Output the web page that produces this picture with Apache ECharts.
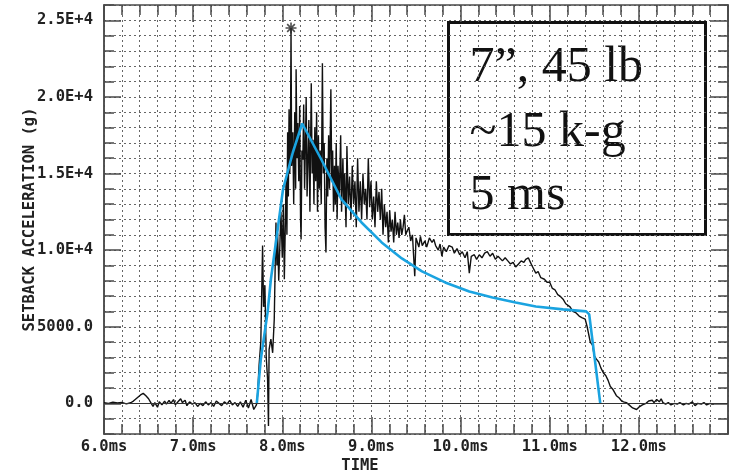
<!DOCTYPE html>
<html>
<head>
<meta charset="utf-8">
<script src="https://cdn.jsdelivr.net/npm/echarts@6/dist/echarts.min.js"></script>
<style>
html,body{margin:0;padding:0;background:#fff;}
#chart{width:729px;height:476px;}
</style>
</head>
<body>
<div id="chart"></div>
<script>
// ---- data (time in ms, acceleration in g) ----
var xTickValues = [6, 7, 8, 9, 10, 11, 12];
var xTickLabels = ['6.0ms', '7.0ms', '8.0ms', '9.0ms', '10.0ms', '11.0ms', '12.0ms'];
var yTickValues = [0, 5000, 10000, 15000, 20000, 25000];
var yTickLabels = ['0.0', '5000.0', '1.0E+4', '1.5E+4', '2.0E+4', '2.5E+4'];

var traceTime = [
 6.00,6.05,6.10,6.15,6.20,6.25,6.30,6.33,6.37,6.41,6.44,6.47,6.50,6.52,6.55,6.57,6.60,6.62,6.65,6.68,
 6.70,6.73,6.75,6.78,6.80,6.83,6.86,6.88,6.91,6.93,6.96,6.99,7.02,7.05,7.08,7.11,7.14,7.17,7.20,7.23,
 7.26,7.29,7.32,7.35,7.38,7.41,7.44,7.47,7.50,7.53,7.56,7.59,7.62,7.65,7.68,7.71,
 7.722,7.740,7.759,7.779,7.790,7.805,7.820,7.835,7.845,7.852,7.872,7.892,7.910,7.929,7.940,7.948,7.960,7.985,
 8.000,8.012,8.023,8.035,8.042,8.052,8.060,8.068,8.076,8.084,8.092,8.098,8.105,8.118,8.128,8.140,8.150,8.155,
 8.165,8.174,8.185,8.195,8.205,8.211,8.220,8.231,8.240,8.250,8.260,8.268,8.278,8.287,8.298,8.310,8.325,8.335,
 8.345,8.355,8.365,8.375,8.385,8.395,8.405,8.415,8.425,8.437,8.450,8.460,8.470,8.480,8.490,8.500,8.510,8.520,
 8.530,8.545,8.555,8.565,8.575,8.585,8.595,8.605,8.615,8.625,8.640,8.655,8.665,8.680,8.690,8.700,8.715,8.725,
 8.740,8.755,8.770,8.785,8.800,8.815,8.830,8.845,8.860,8.875,8.890,8.905,8.920,8.935,8.950,8.965,8.980,8.995,
 9.010,9.025,9.040,9.055,9.070,9.085,9.100,9.115,9.130,9.145,9.160,9.175,9.190,9.205,9.220,9.235,9.250,9.265,
 9.280,9.295,9.310,9.325,9.340,9.355,9.370,9.385,9.397,9.420,9.440,9.460,9.486,9.500,9.532,9.550,9.570,9.600,
 9.620,9.650,9.680,9.700,9.720,9.750,9.770,9.790,9.810,9.840,9.870,9.906,9.930,9.960,9.990,10.019,10.050,10.075,
 10.098,10.120,10.154,10.180,10.210,10.240,10.270,10.300,10.330,10.360,10.390,10.420,10.436,10.470,10.500,10.530,10.560,10.590,
 10.618,10.650,10.680,10.710,10.731,10.760,10.776,10.800,10.844,10.870,10.900,10.940,10.970,11.000,11.030,11.060,11.090,11.115,
 11.150,11.180,11.200,11.228,11.260,11.296,11.330,11.360,11.398,11.420,11.455,11.480,11.500,11.522,11.550,11.575,11.601,11.630,
 11.655,11.680,11.710,11.748,11.780,11.800,11.827,11.860,11.890,11.930,11.974,12.000,12.040,12.080,12.110,12.132,12.150,12.170,
 12.200,12.230,12.250,12.270,12.300,12.330,12.360,12.400,12.430,12.460,12.500,12.530,12.560,12.600,12.630,12.660,12.700,12.730,
 12.760,12.800,12.840
];
var traceAccel = [
 50,0,80,20,60,-30,40,150,350,550,650,500,300,100,-200,50,-250,100,-100,150,
 -50,200,0,250,-100,100,300,50,200,-150,100,-50,50,-200,0,-150,100,-100,50,-200,
 150,0,-150,100,-50,200,-100,50,-200,100,-250,200,-300,250,-400,-100,
 500,2500,4000,10300,6300,7700,3000,1600,-1480,3500,4200,3300,5500,11800,9000,11100,8000,12500,
 9500,13000,8100,12000,14600,11000,17700,13500,19200,15000,17500,24500,15500,17700,13000,19000,14000,21800,
 16000,18300,14500,19400,12000,10700,16500,15900,19500,14000,17000,20000,13500,15500,18500,12500,20900,15000,
 17200,13000,18000,14500,19000,12500,17500,14000,16500,13000,22200,15000,17000,11500,9850,16000,13500,17500,
 14000,20500,14500,16500,12500,15500,13000,17000,12000,15500,13500,17500,12500,16000,13000,15000,11500,16800,
 13000,14800,12000,15500,13000,14500,11500,16000,12500,14500,12000,15000,13000,14000,12000,16000,12800,14500,
 12000,13500,11500,14500,12500,13800,12000,14000,11000,13000,11500,12500,10500,12600,11200,12000,10500,12500,
 11000,11800,10800,12000,11000,11500,12300,11000,11200,11500,10600,11000,8300,10800,10200,10900,10300,10600,
 10200,10800,10500,10700,10300,10000,10400,9600,10200,9900,10300,10200,9800,10100,9700,9900,9500,9900,
 8500,9600,9700,9400,9700,9500,9800,9900,9600,9800,9400,9600,9500,9300,9500,9300,9100,9200,
 8900,9100,9300,9200,9400,9500,9300,9000,8500,8600,8200,8100,7900,7900,7500,7400,7100,7000,
 6800,6500,6500,6300,6000,5900,5700,5600,5500,5000,4000,3800,3100,2900,2700,2300,2000,1800,
 1500,1100,900,500,350,200,100,50,-100,-300,-400,-250,-100,0,150,100,200,50,
 250,100,300,50,-50,50,-100,0,-50,50,-100,0,-50,100,-150,0,-50,50,
 -100,0,-50
];
var modelTime = [7.714,7.759,7.835,7.872,7.948,8.008,8.118,8.223,8.438,8.664,8.889,9.115,9.341,9.567,9.827,10.098,10.358,10.618,10.844,11.149,11.409,11.443,11.488,11.567];
var modelAccel = [0,2870,5936,8089,11350,13960,16373,18265,15916,13307,11807,10502,9459,8610,7893,7306,6914,6588,6327,6132,6001,5806,3718,0];
var peakTime = [8.098];
var peakAccel = [24500];

function zip(a, b) { var r = []; for (var i = 0; i < a.length; i++) r.push([a[i], b[i]]); return r; }

var FONT = 'DejaVu Sans Mono';
var FS = 15.5;
var frameColor = '#4a4a4a';
var gridStyle = { color: '#666', width: 1, type: [2, 3] };

var chart = echarts.init(document.getElementById('chart'), null, { renderer: 'canvas' });

function xAx(pos, withLabels) {
  return {
    type: 'value', position: pos, min: 6, max: 13, interval: 1,
    axisLine: { show: true, onZero: false, lineStyle: { color: frameColor, width: 1.5 } },
    axisTick: { show: true, inside: true, length: 17, lineStyle: { color: frameColor, width: 1.5 } },
    minorTick: { show: true, splitNumber: 5, length: 10, lineStyle: { color: frameColor, width: 1.5 } },
    splitLine: { show: withLabels, lineStyle: gridStyle },
    minorSplitLine: { show: withLabels, lineStyle: gridStyle },
    axisLabel: withLabels ? {
      show: true, margin: 5, showMaxLabel: false,
      fontFamily: FONT, fontWeight: 'bold', fontSize: FS, color: '#222',
      formatter: function (v) { var i = xTickValues.indexOf(v); return i >= 0 ? xTickLabels[i] : ''; }
    } : { show: false },
    name: withLabels ? 'TIME' : '',
    nameLocation: 'middle', nameGap: 24, nameMoveOverlap: false,
    nameTextStyle: { fontFamily: FONT, fontWeight: 'bold', fontSize: FS, color: '#222', padding: [0, 112, 0, 0] }
  };
}

function yAx(pos, major, withLabels) {
  var o = {
    type: 'value', position: pos, min: -2000, max: 26000, interval: 1000,
    axisLine: { show: true, onZero: false, lineStyle: { color: frameColor, width: 1.5 } },
    axisTick: { show: true, inside: true, length: major ? 17 : 10, lineStyle: { color: frameColor, width: 1.5 } },
    splitLine: { show: (!major && pos === 'left'), lineStyle: gridStyle },
    axisLabel: { show: false }
  };
  if (major) {
    o.axisTick.customValues = yTickValues;
    if (withLabels) {
      o.axisLabel = {
        show: true, margin: 11, customValues: yTickValues,
        fontFamily: FONT, fontWeight: 'bold', fontSize: FS, color: '#222',
        formatter: function (v) { var i = yTickValues.indexOf(v); return i >= 0 ? yTickLabels[i] : ''; }
      };
      o.name = 'SETBACK ACCELERATION (g)';
      o.nameLocation = 'middle';
      o.nameGap = 66;
      o.nameMoveOverlap = false;
      o.nameTextStyle = { fontFamily: FONT, fontWeight: 'bold', fontSize: FS, color: '#222' };
    }
  }
  return o;
}

var option = {
  animation: false,
  backgroundColor: '#fff',
  grid: { left: 104, right: 1, top: 5, bottom: 42, containLabel: false, outerBoundsMode: 'none' },
  xAxis: [xAx('bottom', true), xAx('top', false)],
  yAxis: [yAx('left', false, false), yAx('left', true, true), yAx('right', false, false), yAx('right', true, false)],
  series: [
    {
      type: 'line', xAxisIndex: 0, yAxisIndex: 0,
      data: zip(traceTime, traceAccel), showSymbol: false, symbol: 'none',
      lineStyle: { color: '#111', width: 1.4 },
      markLine: {
        silent: true, symbol: 'none', label: { show: false },
        lineStyle: { color: '#333', width: 1.2, type: 'solid' },
        data: [{ yAxis: 0 }]
      },
      z: 3
    },
    {
      type: 'line', xAxisIndex: 0, yAxisIndex: 0,
      data: zip(modelTime, modelAccel), showSymbol: false, symbol: 'none',
      lineStyle: { color: '#1aa3e0', width: 2.6 },
      z: 4
    },
    {
      type: 'scatter', xAxisIndex: 0, yAxisIndex: 0,
      data: zip(peakTime, peakAccel),
      symbol: 'path://M5,0L5,10M0,5L10,5M1.5,1.5L8.5,8.5M8.5,1.5L1.5,8.5',
      symbolSize: 11,
      itemStyle: { color: 'transparent', borderColor: '#222', borderWidth: 1.6 },
      z: 5
    }
  ],
  graphic: [
    {
      type: 'group', left: 447, top: 21, z: 100,
      children: [
        { type: 'rect', shape: { x: 0, y: 0, width: 257, height: 212 },
          style: { fill: '#fff', stroke: '#111', lineWidth: 3 } },
        { type: 'text', x: 21, y: 45, style: { text: '7\u201D, 45 lb', font: '50px "Liberation Serif"', fill: '#111', verticalAlign: 'middle' } },
        { type: 'text', x: 21, y: 110, style: { text: '~15 k-g', font: '50px "Liberation Serif"', fill: '#111', verticalAlign: 'middle' } },
        { type: 'text', x: 21, y: 173, style: { text: '5 ms', font: '50px "Liberation Serif"', fill: '#111', verticalAlign: 'middle' } }
      ]
    }
  ]
};
chart.setOption(option);
</script>
</body>
</html>
